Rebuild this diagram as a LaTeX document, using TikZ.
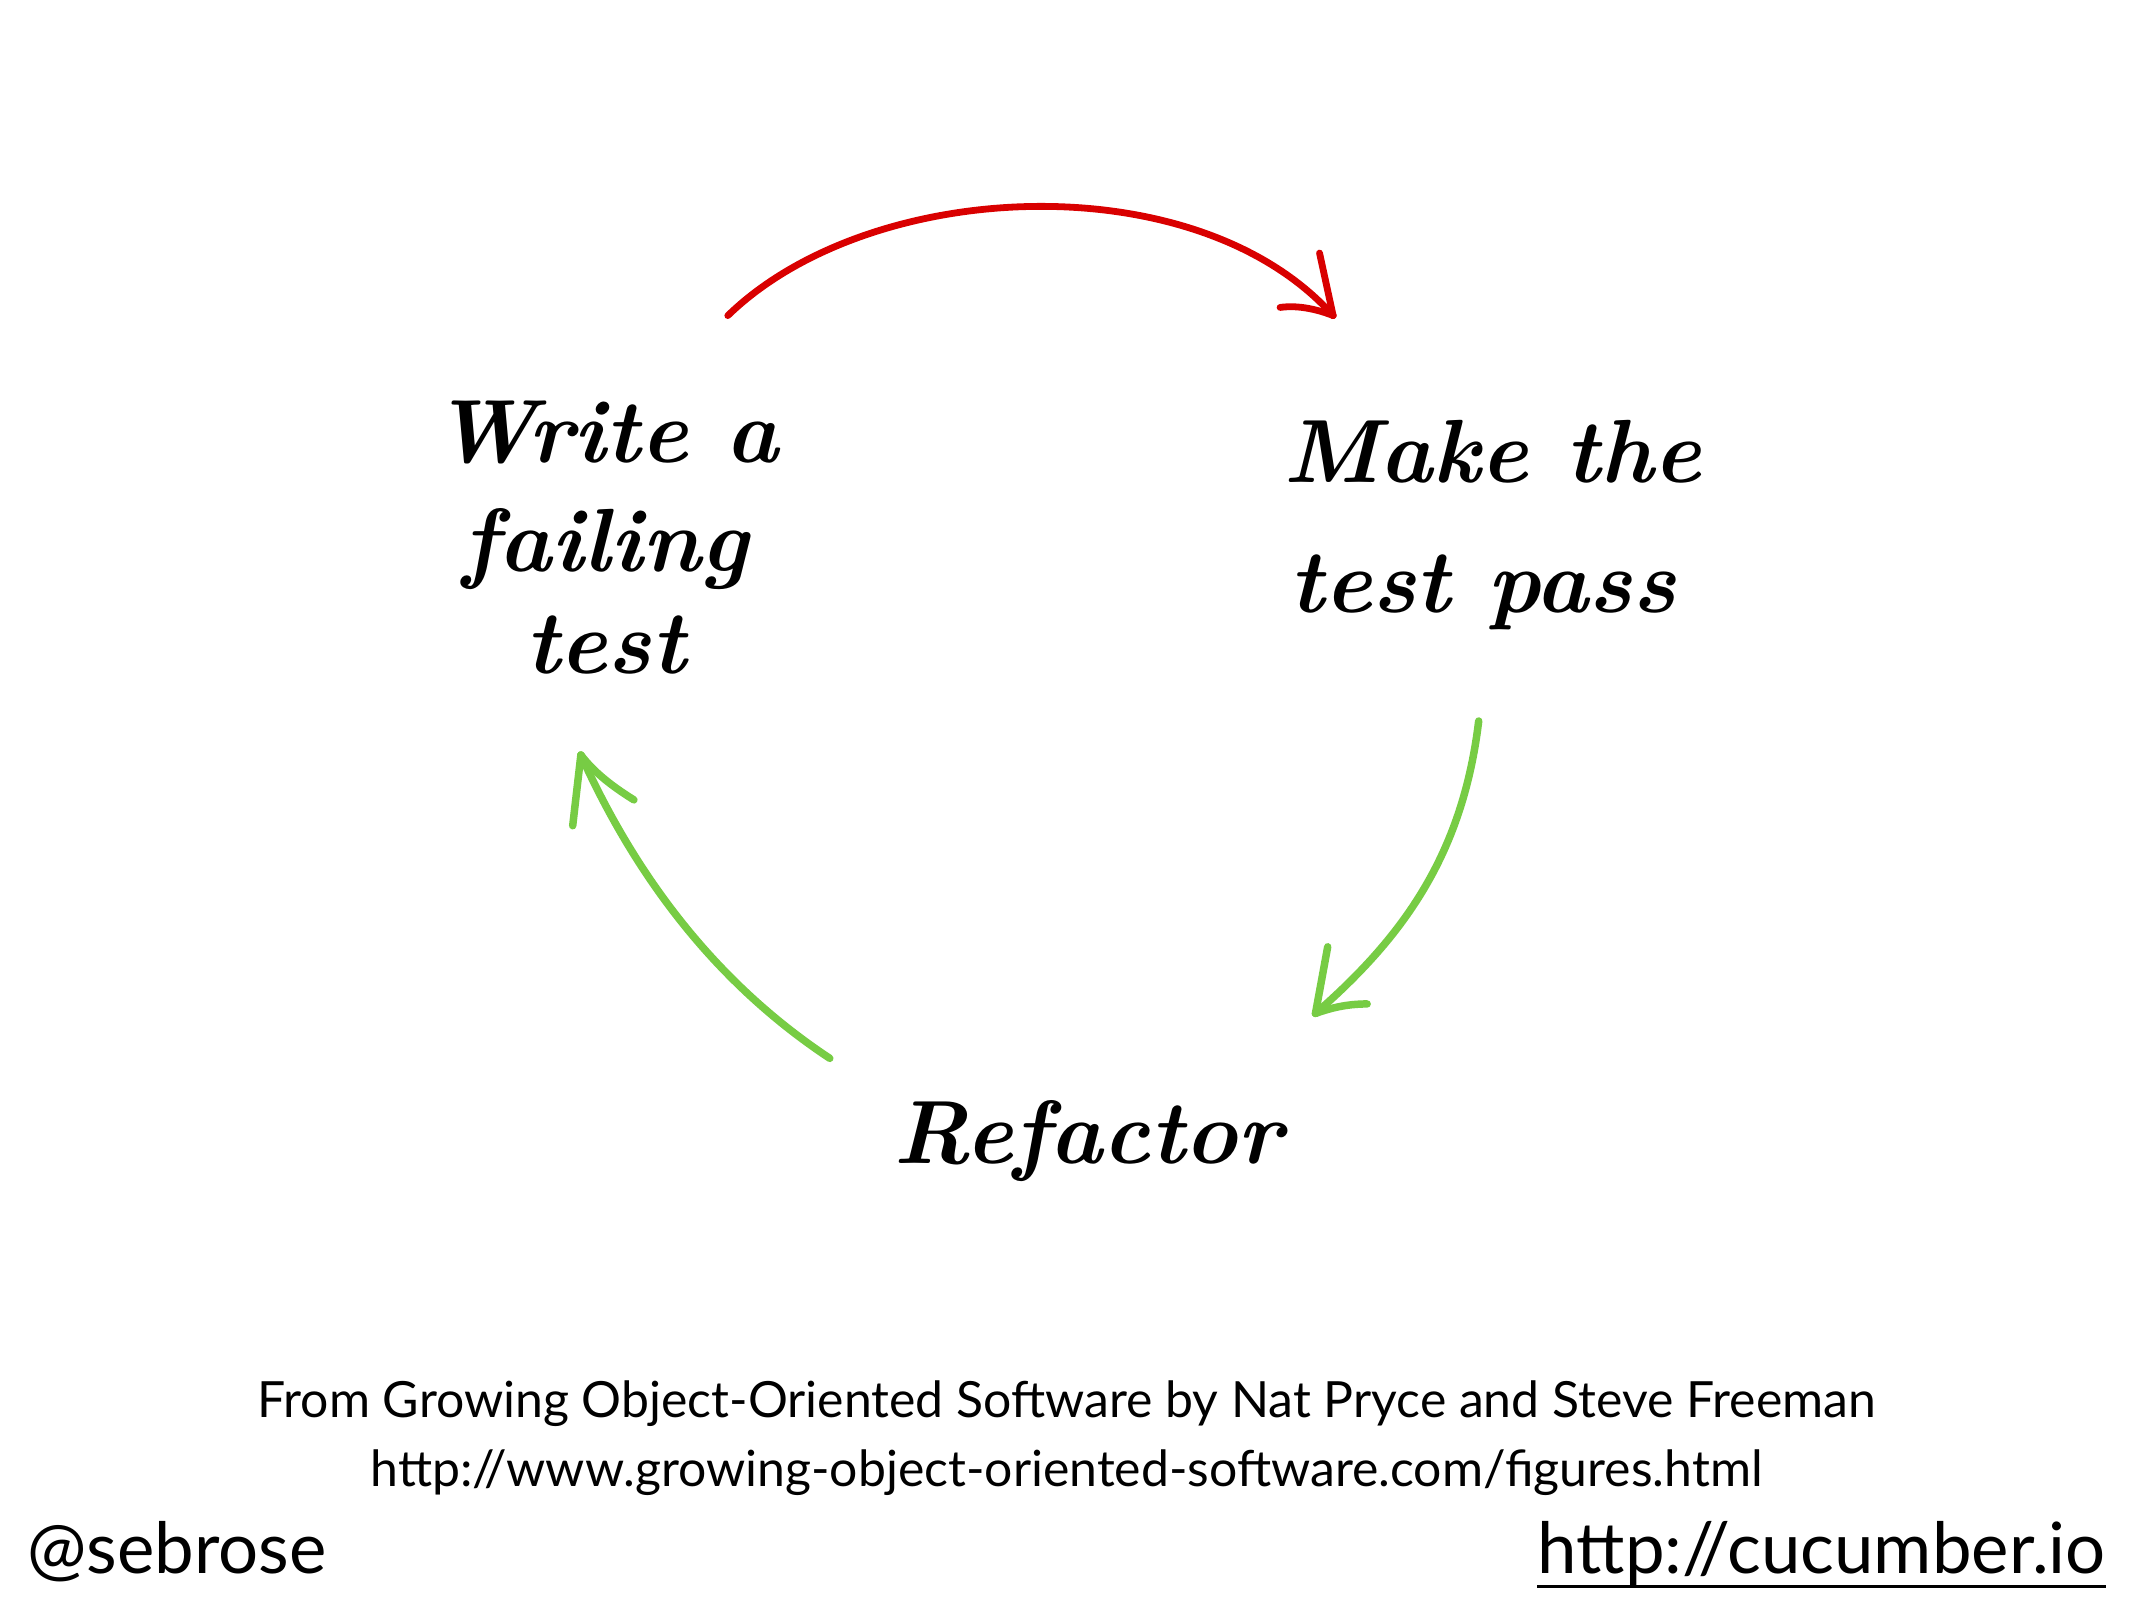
\documentclass[tikz,border=0pt]{standalone}
\usepackage{fontspec}
\newfontfamily\lato{Lato}
\definecolor{redarc}{HTML}{D90000}
\definecolor{greenarc}{HTML}{77CC44}
\begin{document}
\begin{tikzpicture}[x=1pt,y=-1pt,
  hand/.style={font=\fontsize{66}{74}\selectfont\bfseries\itshape, anchor=base, inner sep=0pt},
  credit/.style={font=\lato\fontsize{36.7}{40}\selectfont, anchor=base, inner sep=0pt},
  corner/.style={font=\lato\fontsize{52}{56}\selectfont, anchor=base, inner sep=0pt},
  redline/.style={draw=redarc, line width=5pt, line cap=round, line join=round},
  greenline/.style={draw=greenarc, line width=5.5pt, line cap=round, line join=round}]
\useasboundingbox[fill=white] (0,0) rectangle (1568,1176);

% handwritten labels
\node[hand] (w1) at (445,340) {Write a};
\node[hand] (w2) at (445,420) {failing};
\node[hand] (w3) at (445,495) {test};
\node[hand] (m1) at (1097,355) {Make the};
\node[hand] (m2) at (1090,450) {test pass};
\node[hand] (rf) at (800,855) {Refactor};

% arrow end points
\coordinate (rs) at (535,232);
\coordinate (re) at (980,232);
\coordinate (gs) at (1087,530);
\coordinate (ge) at (967,745);
\coordinate (ls) at (610,778);
\coordinate (le) at (427,555);

% red arrow
\path[redline] (rs) .. controls (640,130) and (880,120) .. (re);
\path[redline] (970,186) -- (re);
\path[redline] (941,226) .. controls (955,224) and (970,228) .. (re);

% green right arrow
\path[greenline] (gs) .. controls (1075,630) and (1030,690) .. (ge);
\path[greenline] (976,696) -- (ge);
\path[greenline] (1005,738) .. controls (990,738) and (978,741) .. (ge);

% green left arrow
\path[greenline] (ls) .. controls (530,725) and (470,650) .. (le);
\path[greenline] (421,607) -- (le);
\path[greenline] (466,588) .. controls (450,578) and (437,568) .. (le);

% credits
\node[credit] (c1) at (784,1042) {From Growing Object-Oriented Software by Nat Pryce and Steve Freeman};
\node[credit] (c2) at (784,1093) {http://www.growing-object-oriented-software.com/figures.html};
\node[corner, anchor=base west] (sb) at (20,1157) {@sebrose};
\node[corner, anchor=base east] (cu) at (1548,1157) {http://cucumber.io};
\draw[line width=2pt] (cu.base west) ++(0,9) -- ([yshift=-9pt]cu.base east);
\end{tikzpicture}
\end{document}
